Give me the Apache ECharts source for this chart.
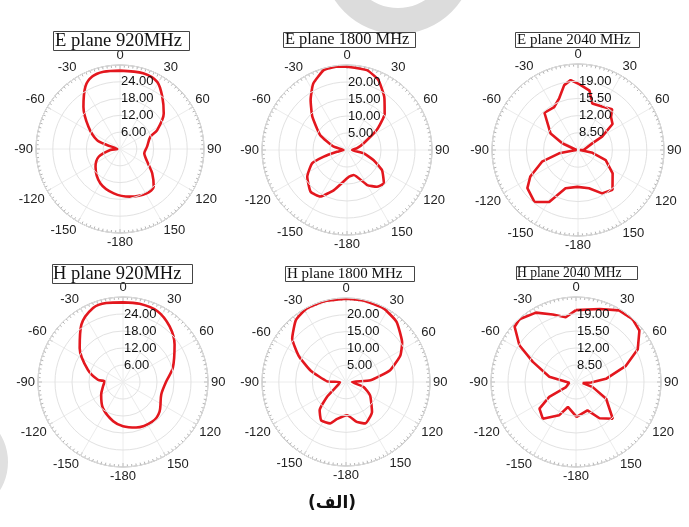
<!DOCTYPE html>
<html>
<head>
<meta charset="utf-8">
<script src="https://cdn.jsdelivr.net/npm/echarts@6/dist/echarts.min.js"></script>
<style>
  html, body { margin: 0; padding: 0; background: #fff; }
  #chart { width: 689px; height: 527px; }
</style>
</head>
<body>
<div id="chart"></div>
<script>
// Angle tick labels, one per 30 degrees going clockwise from the top
const angleTickLabels = ['0', '30', '60', '90', '120', '150', '-180', '-150', '-120', '-90', '-60', '-30'];

// Radial scales: [min, max, step]
const scale920 = [0, 30, 6];
const scale1800 = [0, 25, 5];
const scale2040 = [5, 22.5, 3.5];

// E plane, 920 MHz (angle in degrees, gain)
const e920Angle = [0, 17, 29, 39, 51, 63, 68, 85, 100, 107, 119, 127, 138, 149, 168, -172, -150, -126, -110, -96, -90, -73, -69, -55, -41, -29, -21, -12];
const e920Gain  = [28.0, 28.3, 27.4, 24.0, 20.1, 14.9, 11.7, 9.7, 8.8, 9.4, 11.7, 14.4, 18.0, 18.5, 17.4, 16.0, 14.1, 10.8, 8.1, 3.5, 1.0, 4.9, 8.8, 13.7, 19.9, 25.5, 27.7, 28.2];

// E plane, 1800 MHz
const e1800Angle = [0, 14, 24, 35, 46, 56, 68, 80, 90, 101, 111, 120, 132, 141, 150, 165, 176, -162, -150, -139, -124, -111, -106, -100, -90, -76, -61, -46, -36, -27, -16, -7];
const e1800Gain  = [24.5, 24.2, 22.6, 19.1, 15.4, 10.6, 5.3, 3.0, 1.5, 5.0, 8.4, 11.9, 14.6, 13.9, 11.9, 7.6, 7.9, 12.4, 15.8, 16.3, 14.1, 11.0, 7.1, 3.0, 1.0, 4.0, 9.0, 14.2, 18.2, 21.9, 24.5, 24.7];

// E plane, 2040 MHz
const e2040Angle = [1, 11, 17, 29, 40, 45, 53, 61, 65, 88, 90, 101, 110, 124, 139, 151, 164, -179, -162, -151, -140, -127, -119, -108, -100, -97, -90, -67, -59, -42, -29, -20, -12, -6];
const e2040Gain  = [18.4, 17.3, 14.9, 15.1, 15.8, 14.5, 13.8, 10.6, 8.2, 6.2, 5.4, 8.0, 11.0, 13.5, 15.7, 15.1, 13.1, 12.5, 13.2, 17.1, 18.8, 17.9, 16.1, 12.7, 8.9, 6.2, 5.3, 8.5, 11.5, 15.2, 15.0, 16.2, 18.5, 19.3];

// H plane, 920 MHz
const h920Angle = [0, 12, 26, 40, 54, 74, 89, 108, 129, 143, 164, 180, -166, -142, -120, -102, -88, -85, -71, -52, -36, -22, -12];
const h920Gain  = [28.1, 28.2, 27.8, 25.6, 22.5, 18.3, 15.3, 14.2, 16.6, 17.4, 16.7, 15.6, 14.3, 11.6, 8.9, 7.2, 6.5, 8.9, 13.1, 19.4, 25.0, 28.2, 28.5];

// H plane, 1800 MHz
const h1800Angle = [0, 12, 27, 40, 55, 64, 75, 86, 90, 106, 119, 139, 155, 165, 178, -166, -159, -147, -137, -128, -114, -90, -88, -72, -61, -51, -39, -28, -15];
const h1800Gain  = [24.8, 24.8, 24.6, 23.4, 20.4, 18.0, 13.6, 7.3, 1.8, 5.5, 8.2, 11.8, 13.6, 12.3, 9.9, 11.4, 13.2, 13.6, 11.5, 7.2, 2.9, 1.8, 5.6, 11.1, 16.1, 20.6, 23.7, 24.8, 24.9];

// H plane, 2040 MHz
const h2040Angle = [0, 18, 31, 42, 51, 62, 72, 84, 92, 98, 107, 119, 135, 147, 158, 179, -162, -153, -138, -126, -119, -117, -96, -79, -65, -57, -48, -42, -30, -19, -9];
const h2040Gain  = [19.8, 20.8, 22.2, 22.4, 21.8, 19.4, 15.8, 11.2, 8.1, 6.4, 8.6, 12.1, 15.7, 13.9, 11.3, 12.2, 10.4, 12.7, 15.2, 14.3, 11.3, 7.3, 6.4, 10.6, 14.8, 18.9, 22.0, 22.4, 21.5, 19.7, 18.5];

const panels = [
  { title: 'E plane 920MHz',   titlePos: [53, 34],  fontSize: 18.6, pad: [0, 8, 0, 2],  center: [120, 149], radius: 84, scale: scale920,  ang: e920Angle,  val: e920Gain,  smooth: 0.3 },
  { title: 'E plane 1800 MHz', titlePos: [283, 33], fontSize: 16.4, pad: [0, 6, 0, 2],  center: [347, 150], radius: 85, scale: scale1800, ang: e1800Angle, val: e1800Gain, smooth: 0.15 },
  { title: 'E plane 2040 MHz', titlePos: [515, 33], fontSize: 15,   pad: [0, 9, 0, 2],  center: [578, 150], radius: 86, scale: scale2040, ang: e2040Angle, val: e2040Gain, smooth: false },
  { title: 'H plane 920MHz',   titlePos: [52, 267], fontSize: 18.5, pad: [0, 11, 0, 1], center: [123, 382], radius: 85, scale: scale920,  ang: h920Angle,  val: h920Gain,  smooth: 0.3 },
  { title: 'H plane 1800 MHz', titlePos: [285, 267], fontSize: 15,  pad: [0, 12, 0, 2], center: [346, 382], radius: 84, scale: scale1800, ang: h1800Angle, val: h1800Gain, smooth: 0.15 },
  { title: 'H plane 2040 MHz', titlePos: [516, 266], fontSize: 13.6, pad: [0, 16, 0, 1], center: [576, 382], radius: 85, scale: scale2040, ang: h2040Angle, val: h2040Gain, smooth: false }
];

const chart = echarts.init(document.getElementById('chart'), null, { renderer: 'canvas' });

const option = {
  backgroundColor: '#ffffff',
  animation: false,
  title: [],
  polar: [],
  angleAxis: [],
  radiusAxis: [],
  series: [],
  graphic: [
    // faint grey ring fragments in the page margins
    {
      type: 'ring', silent: true, z: -1,
      shape: { cx: 398, cy: -42, r: 76, r0: 50 },
      style: { fill: '#dcdcdc' }
    },
    {
      type: 'ring', silent: true, z: -1,
      shape: { cx: -46, cy: 462, r: 54, r0: 46 },
      style: { fill: '#e0e0e0' }
    }
  ]
};

panels.forEach((p, i) => {
  option.title.push({
    text: p.title,
    left: p.titlePos[0],
    top: p.titlePos[1],
    padding: p.pad,
    borderColor: '#444',
    borderWidth: 1,
    textStyle: {
      fontFamily: 'Liberation Serif',
      fontSize: p.fontSize,
      fontWeight: 'normal',
      color: '#111',
      lineHeight: 14
    }
  });
  option.polar.push({ center: p.center, radius: p.radius });
  option.angleAxis.push({
    polarIndex: i,
    type: 'value',
    min: 0,
    max: 360,
    interval: 30,
    startAngle: 90,
    clockwise: true,
    axisLine: { show: true, lineStyle: { color: '#9a9a9a', width: 1 } },
    axisTick: { show: true, inside: true, length: 4, lineStyle: { color: '#8a8a8a' } },
    minorTick: { show: true, splitNumber: 10, length: 2.5, lineStyle: { color: '#b4b4b4' } },
    splitLine: { show: true, lineStyle: { color: '#ececec', width: 1 } },
    axisLabel: {
      margin: 3,
      fontFamily: 'Liberation Sans',
      fontSize: 13,
      color: '#222',
      formatter: v => (v >= 360 ? '' : angleTickLabels[Math.round(v / 30)])
    }
  });
  const [mn, mx, step] = p.scale;
  option.radiusAxis.push({
    polarIndex: i,
    type: 'value',
    min: mn,
    max: mx,
    interval: step,
    axisLine: { show: false },
    axisTick: { show: false },
    splitLine: { show: true, lineStyle: { color: '#e2e2e2', width: 1 } },
    axisLabel: {
      show: true,
      margin: -1,
      align: 'left',
      verticalAlign: 'middle',
      padding: [0, 0, 8, 0],
      fontFamily: 'Liberation Sans',
      fontSize: 13,
      color: '#111',
      formatter: v => (v === mn || v === mx ? '' : v.toFixed(2))
    },
    z: 5
  });
  const data = p.ang.map((a, k) => [p.val[k], a < 0 ? a + 360 : a]);
  data.push([p.val[0], p.ang[0] < 0 ? p.ang[0] + 360 : p.ang[0] + (p.ang[0] === 0 ? 360 : 0)]);
  option.series.push({
    type: 'line',
    coordinateSystem: 'polar',
    polarIndex: i,
    data: data,
    smooth: p.smooth,
    symbol: 'none',
    clip: false,
    lineStyle: { color: '#e3171e', width: 2.6 },
    z: 3
  });
});

// Figure caption
option.title.push({
  text: '(الف)',
  left: 308,
  top: 495,
  padding: 0,
  textStyle: { fontFamily: 'DejaVu Sans', fontSize: 17, fontWeight: 'bold', color: '#111' }
});

chart.setOption(option);
</script>
</body>
</html>
